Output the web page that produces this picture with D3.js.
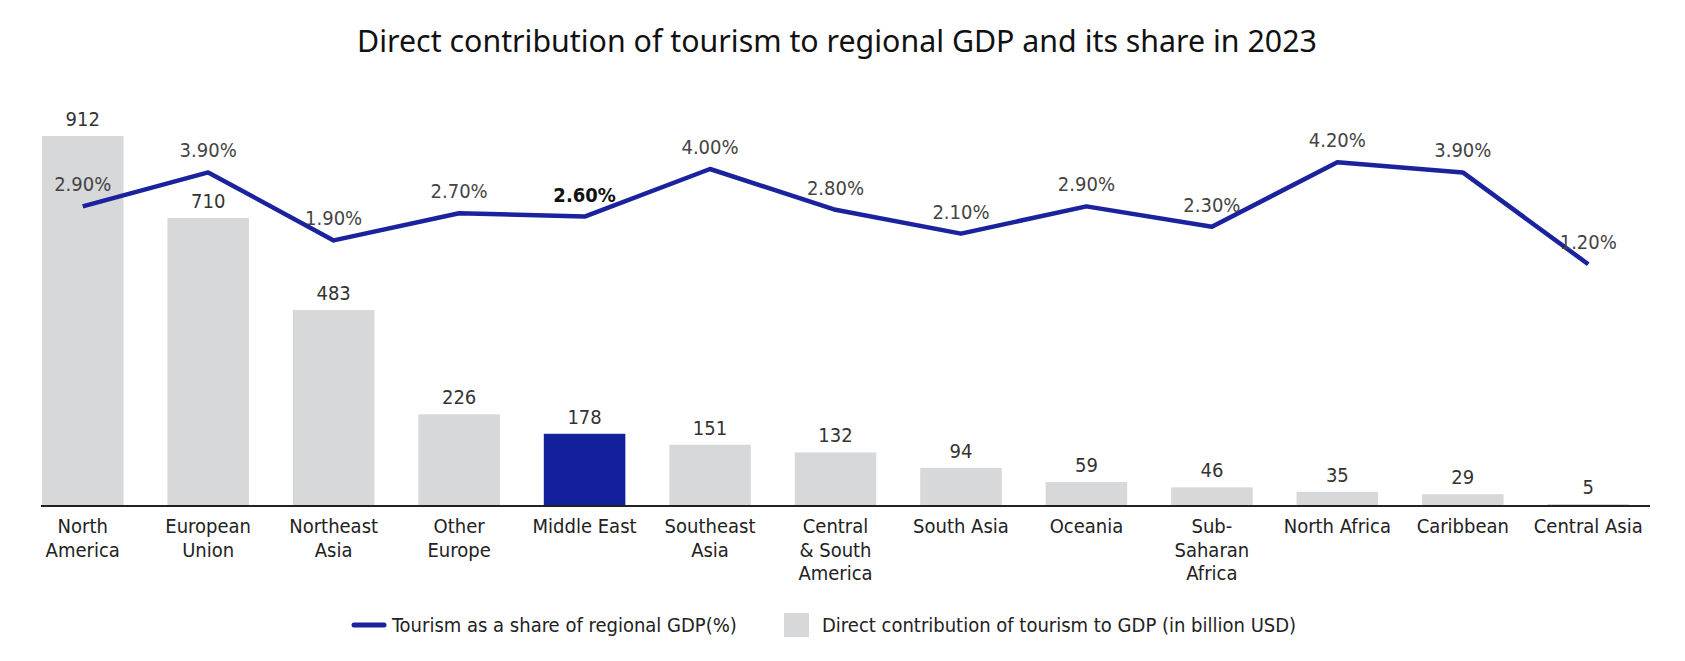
<!DOCTYPE html>
<html>
<head>
<meta charset="utf-8">
<script src="https://cdn.jsdelivr.net/npm/d3@7"></script>
<style>
  body { margin: 0; background: #fff; }
  .narrow { font-family: "Liberation Sans Narrow", "DejaVu Sans Condensed", "Roboto", sans-serif; }
</style>
</head>
<body>
<script>
// data
var regions = ["North America", "European Union", "Northeast Asia", "Other Europe", "Middle East",
    "Southeast Asia", "Central & South America", "South Asia", "Oceania", "Sub-Saharan Africa",
    "North Africa", "Caribbean", "Central Asia"];
var regionLines = [["North", "America"], ["European", "Union"], ["Northeast", "Asia"], ["Other", "Europe"],
    ["Middle East"], ["Southeast", "Asia"], ["Central", "& South", "America"], ["South Asia"], ["Oceania"],
    ["Sub-", "Saharan", "Africa"], ["North Africa"], ["Caribbean"], ["Central Asia"]];
var gdpValues = [912, 710, 483, 226, 178, 151, 132, 94, 59, 46, 35, 29, 5];
var shareValues = [2.9, 3.9, 1.9, 2.7, 2.6, 4.0, 2.8, 2.1, 2.9, 2.3, 4.2, 3.9, 1.2];
var highlight = "Middle East";

var width = 1685, height = 661;
var baseY = 506;

var svg = d3.select("body").append("svg")
    .attr("width", width)
    .attr("height", height);

// scales
var x = d3.scaleBand()
    .domain(regions)
    .range([20, 1651])
    .paddingInner(0.35)
    .paddingOuter(0.175);

var yBar = d3.scaleLinear()
    .domain([0, 912])
    .range([baseY, 136]);

var yLine = d3.scaleLinear()
    .domain([0, 5])
    .range([305, 135]);

// title
var title = svg.append("text")
    .attr("x", 837)
    .attr("y", 52)
    .attr("text-anchor", "middle")
    .style("font-family", "'Noto Sans', 'Open Sans', sans-serif")
    .style("font-size", "31px")
    .style("fill", "#111")
    .text("Direct contribution of tourism to regional GDP and its share in 2023");
// fit title to the width seen in the picture
var tw = title.node().getComputedTextLength();
title.style("font-size", (31 * 960 / tw) + "px");

// bars
svg.selectAll(".bar")
    .data(regions)
    .enter().append("rect")
    .attr("class", "bar")
    .attr("x", function (d) { return x(d); })
    .attr("width", x.bandwidth())
    .attr("y", function (d, i) { return yBar(gdpValues[i]); })
    .attr("height", function (d, i) { return baseY - yBar(gdpValues[i]); })
    .style("fill", function (d) { return d === highlight ? "#13209b" : "#d6d8d9"; });

// bar value labels
svg.selectAll(".barLabel")
    .data(regions)
    .enter().append("text")
    .attr("class", "barLabel narrow")
    .attr("x", function (d) { return x(d) + x.bandwidth() / 2; })
    .attr("y", function (d, i) { return yBar(gdpValues[i]) - 10; })
    .attr("text-anchor", "middle")
    .style("font-size", "20px")
    .style("fill", "#333")
    .text(function (d, i) { return gdpValues[i]; });

// x axis line
svg.append("line")
    .attr("x1", 41).attr("x2", 1650)
    .attr("y1", baseY).attr("y2", baseY)
    .style("stroke", "#222")
    .style("stroke-width", 2);

// category labels
var cat = svg.selectAll(".cat")
    .data(regions)
    .enter().append("text")
    .attr("class", "cat narrow")
    .attr("text-anchor", "middle")
    .style("font-size", "20px")
    .style("fill", "#222");
cat.each(function (d, i) {
    var t = d3.select(this);
    regionLines[i].forEach(function (s, j) {
        t.append("tspan")
            .attr("x", x(d) + x.bandwidth() / 2)
            .attr("y", 533 + j * 23.5)
            .text(s);
    });
});

// share line
var line = d3.line()
    .x(function (d, i) { return x(regions[i]) + x.bandwidth() / 2; })
    .y(function (d) { return yLine(d); });

svg.append("path")
    .datum(shareValues)
    .attr("d", line)
    .style("fill", "none")
    .style("stroke", "#1a239d")
    .style("stroke-width", 4.5)
    .style("stroke-linejoin", "round");

// share labels
svg.selectAll(".shareLabel")
    .data(regions)
    .enter().append("text")
    .attr("class", "shareLabel narrow")
    .attr("x", function (d) { return x(d) + x.bandwidth() / 2; })
    .attr("y", function (d, i) { return yLine(shareValues[i]) - 15; })
    .attr("text-anchor", "middle")
    .style("font-size", "20px")
    .style("font-weight", function (d) { return d === highlight ? "bold" : "normal"; })
    .style("fill", function (d) { return d === highlight ? "#111" : "#444"; })
    .text(function (d, i) { return shareValues[i].toFixed(2) + "%"; });

// legend
var legend = svg.append("g").attr("class", "legend");
legend.append("line")
    .attr("x1", 354).attr("x2", 384)
    .attr("y1", 625).attr("y2", 625)
    .style("stroke", "#1a239d")
    .style("stroke-width", 5)
    .style("stroke-linecap", "round");
legend.append("text")
    .attr("class", "narrow")
    .attr("x", 392).attr("y", 632)
    .style("font-size", "20px")
    .style("fill", "#222")
    .text("Tourism as a share of regional GDP(%)");
legend.append("rect")
    .attr("x", 784).attr("y", 613)
    .attr("width", 25).attr("height", 24)
    .style("fill", "#d6d8d9");
legend.append("text")
    .attr("class", "narrow")
    .attr("x", 822).attr("y", 632)
    .style("font-size", "20px")
    .style("fill", "#222")
    .text("Direct contribution of tourism to GDP (in billion USD)");
</script>
</body>
</html>
